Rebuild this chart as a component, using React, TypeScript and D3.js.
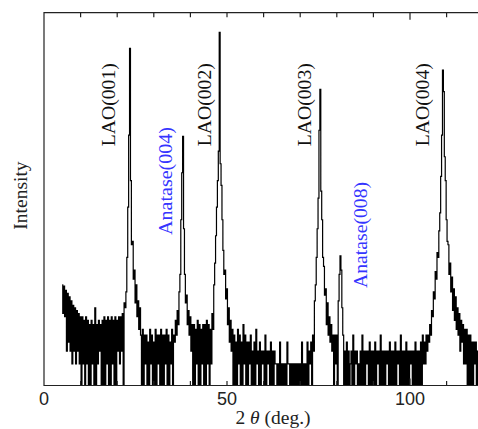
import { useEffect, useRef } from 'react';
import * as d3 from 'd3';

// scan: 2theta from 5 deg, 0.25 deg steps, counts (log scale)
const startAngle = 5;
const stepAngle = 0.25;
const counts = [
  25, 10, 24, 9, 21, 3, 19, 4, 17, 3, 15, 2, 13, 3, 12, 2,
  11, 3, 10, 2, 9, 1, 9, 2, 8, 1, 9, 2, 8, 1, 7, 1,
  8, 2, 7, 1, 12, 1, 7, 2, 8, 3, 7, 1, 8, 1, 9, 1,
  8, 2, 9, 1, 8, 1, 9, 2, 8, 1, 9, 1, 8, 3, 9, 2,
  9, 3, 10, 1, 14, 12, 20, 60, 300, 3000, 48000, 700, 90, 100, 30, 40,
  14, 25, 9, 15, 6, 12, 5, 1, 6, 1, 5, 2, 5, 1, 4, 1,
  6, 2, 5, 1, 4, 1, 6, 1, 5, 2, 5, 1, 6, 1, 5, 1,
  5, 2, 6, 1, 5, 1, 4, 2, 6, 1, 5, 4, 8, 5, 11, 7,
  20, 35, 200, 900, 2870, 150, 35, 14, 18, 7, 11, 5, 9, 3, 7, 1,
  7, 1, 6, 2, 8, 1, 7, 1, 6, 2, 7, 1, 7, 1, 8, 2,
  7, 1, 6, 2, 10, 6, 25, 50, 120, 300, 700, 1800, 80000, 1200, 600, 200,
  75, 35, 40, 16, 22, 7, 12, 4, 8, 3, 6, 1, 5, 1, 4, 1,
  6, 2, 5, 1, 4, 1, 7, 2, 5, 1, 4, 1, 4, 2, 5, 1,
  3, 1, 4, 1, 6, 2, 3, 1, 4, 1, 3, 2, 3, 1, 5, 1,
  3, 2, 3, 1, 4, 1, 3, 1, 3, 2, 2, 1, 2, 1, 4, 1,
  2, 1, 2, 1, 2, 1, 4, 2, 2, 1, 2, 1, 2, 1, 2, 1,
  2, 1, 2, 1, 2, 1, 4, 1, 2, 1, 2, 1, 4, 1, 3, 2,
  4, 1, 5, 3, 15, 25, 60, 150, 400, 3500, 12900, 500, 200, 60, 45, 18,
  22, 7, 14, 5, 9, 4, 7, 3, 5, 1, 5, 2, 5, 1, 15, 35,
  63, 40, 12, 5, 1, 3, 1, 4, 1, 3, 1, 2, 3, 1, 5, 1,
  3, 2, 3, 1, 2, 1, 3, 1, 5, 1, 3, 1, 3, 2, 3, 1,
  4, 1, 3, 1, 3, 1, 4, 1, 3, 2, 3, 1, 5, 1, 3, 1,
  3, 1, 3, 2, 3, 1, 4, 1, 3, 1, 3, 1, 4, 1, 3, 2,
  3, 1, 5, 1, 3, 1, 3, 1, 4, 1, 3, 1, 3, 2, 3, 1,
  3, 1, 4, 1, 3, 1, 3, 1, 4, 1, 5, 2, 4, 2, 5, 3,
  5, 4, 7, 5, 11, 9, 20, 16, 38, 30, 70, 60, 140, 250, 800, 3000,
  24000, 12000, 1500, 700, 200, 100, 90, 35, 50, 20, 32, 11, 22, 8, 17, 6,
  12, 5, 10, 3, 8, 4, 7, 2, 6, 2, 6, 1, 5, 1, 5, 1,
  4, 1, 4, 2, 4, 1, 3, 1, 3, 1, 3, 1,
];

const xTicks = [10, 20, 30, 40, 50, 60, 70, 80, 90, 100, 110];
const xTickLabels = [0, 50, 100];

const peakNames = ['LAO(001)', 'Anatase(004)', 'LAO(002)', 'LAO(003)', 'Anatase(008)', 'LAO(004)'];
const peakLabelAngles = [19.5, 35.0, 45.5, 72.95, 88.25, 105.3];
const peakLabelCounts = [2100, 123, 2100, 2100, 22.6, 2100];
const peakLabelLengths = [83, 108, 83, 83, 106, 83];
const peakColors = ['#111', '#3535ff', '#111', '#111', '#3535ff', '#111'];

const App = () => {
  const ref = useRef(null);

  useEffect(() => {
    const width = 478,
      height = 429;
    const svg = d3.select(ref.current).attr('width', width).attr('height', height);
    svg.selectAll('*').remove();

    const x = d3.scaleLinear().domain([0, 120]).range([44, 483.2]);
    const y = d3.scaleLog().domain([1, 150000]).range([385.5, 12.7]);
    const x0 = x(0), x1 = x(120), yTop = y(150000), yBot = y(1);

    const data = counts.map((c, i) => ({ angle: startAngle + i * stepAngle, count: c }));

    svg
      .append('path')
      .datum(data)
      .attr('fill', 'none')
      .attr('stroke', '#000')
      .attr('stroke-width', 1.2)
      .attr(
        'd',
        d3
          .line()
          .curve(d3.curveStep)
          .x((d) => x(d.angle))
          .y((d) => y(Math.max(1, d.count)))
      );

    // frame
    svg
      .append('path')
      .attr('d', `M${x1},${yTop}H${x0}V${yBot}H${x1}`)
      .attr('fill', 'none')
      .attr('stroke', '#222')
      .attr('stroke-width', 1.2);

    // ticks, inward on top and bottom
    xTicks.forEach((t) => {
      const len = t === 100 ? 7 : 4.5;
      svg.append('line').attr('x1', x(t)).attr('x2', x(t)).attr('y1', yTop).attr('y2', yTop + len)
        .attr('stroke', '#222').attr('stroke-width', 1.2);
      svg.append('line').attr('x1', x(t)).attr('x2', x(t)).attr('y1', yBot).attr('y2', yBot - len)
        .attr('stroke', '#222').attr('stroke-width', 1.2);
    });

    svg
      .selectAll('.tick-label')
      .data(xTickLabels)
      .join('text')
      .attr('x', (d) => x(d))
      .attr('y', 405)
      .attr('text-anchor', 'middle')
      .attr('font-family', '"Liberation Sans", Arial, sans-serif')
      .attr('font-size', 18)
      .attr('fill', '#222')
      .text((d) => d);

    const xLabel = svg
      .append('text')
      .attr('x', 273)
      .attr('y', 424)
      .attr('text-anchor', 'middle')
      .attr('font-family', '"Liberation Serif", "Times New Roman", serif')
      .attr('font-size', 19.5)
      .attr('fill', '#222');
    xLabel.append('tspan').text('2 ');
    xLabel.append('tspan').attr('font-style', 'italic').text('θ');
    xLabel.append('tspan').text(' (deg.)');

    svg
      .append('text')
      .attr('transform', 'translate(26.5,195.5) rotate(-90)')
      .attr('text-anchor', 'middle')
      .attr('font-family', '"Liberation Serif", "Times New Roman", serif')
      .attr('font-size', 19.5)
      .attr('fill', '#222')
      .text('Intensity');

    peakNames.forEach((name, i) => {
      svg
        .append('text')
        .attr('transform', `translate(${x(peakLabelAngles[i])},${y(peakLabelCounts[i])}) rotate(-90)`)
        .attr('text-anchor', 'start')
        .attr('font-family', '"Liberation Serif", "Times New Roman", serif')
        .attr('font-size', 19.5)
        .attr('textLength', peakLabelLengths[i])
        .attr('lengthAdjust', 'spacingAndGlyphs')
        .attr('fill', peakColors[i])
        .text(name);
    });
  }, []);

  return <svg ref={ref} style={{ position: 'absolute', left: 0, top: 0, background: '#fff' }} />;
};

export default App;
